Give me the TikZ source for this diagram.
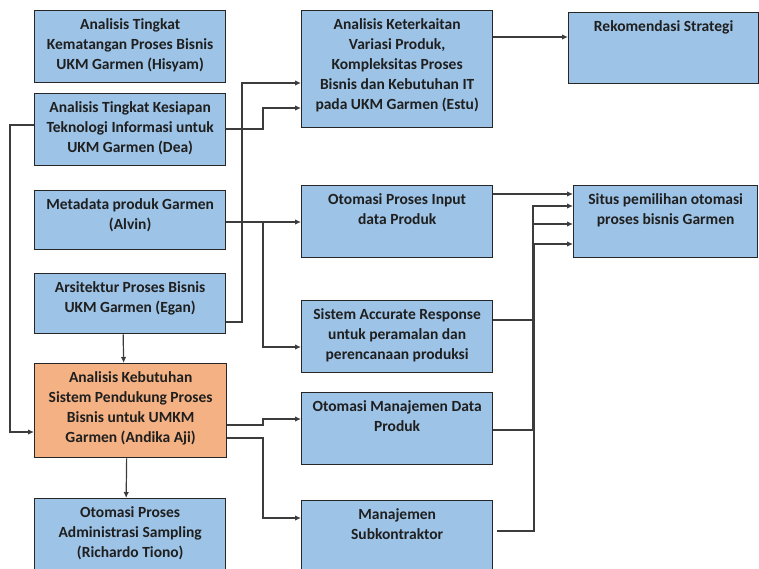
\documentclass[tikz,border=0pt]{standalone}
\usepackage{fontspec}
\setmainfont{Carlito}
\usetikzlibrary{arrows.meta}
\definecolor{boxblue}{HTML}{9DC3E6}
\definecolor{boxorange}{HTML}{F4B183}
\definecolor{edge}{HTML}{262626}
\definecolor{wire}{HTML}{3C3C3C}
\tikzset{
  x=1pt, y=-1pt,
  box/.style={draw=edge, line width=1.3pt, fill=boxblue, anchor=north west, inner sep=0pt},
  hot/.style={box, fill=boxorange},
  label/.style={anchor=north, align=center, inner sep=0pt, font=\fontsize{15.5}{20}\selectfont\bfseries, text=black!88},
  conn/.style={draw=wire, line width=1.2pt, -{Latex[length=6pt,width=5.5pt]}},
}
% a box from (x,y) with width w and height h, plus its top-aligned caption
\newcommand{\procbox}[7]{%
  \node[#1, minimum width=#5pt, minimum height=#6pt] (#2) at (#3,#4) {};
  \node[label] (#2-t) at ([yshift=-8pt]#2.north) {#7};}
\begin{document}
\begin{tikzpicture}
\useasboundingbox (0,0) rectangle (759,568);
\clip (0,0) rectangle (759,568);

% left column
\procbox{box}{hisyam}{34}{10}{191}{72}{Analisis Tingkat\\Kematangan Proses Bisnis\\UKM Garmen (Hisyam)}
\procbox{box}{dea}{34}{93}{191}{72}{Analisis Tingkat Kesiapan\\Teknologi Informasi untuk\\UKM Garmen (Dea)}
\procbox{box}{alvin}{34}{190}{191}{59}{Metadata produk Garmen\\(Alvin)}
\procbox{box}{egan}{34}{273}{191}{60}{Arsitektur Proses Bisnis\\UKM Garmen (Egan)}
\procbox{hot}{andika}{34}{363}{192}{94}{Analisis Kebutuhan\\Sistem Pendukung Proses\\Bisnis untuk UMKM\\Garmen (Andika Aji)}
\procbox{box}{richardo}{34}{498}{191}{80}{Otomasi Proses\\Administrasi Sampling\\(Richardo Tiono)}

% middle column
\procbox{box}{estu}{301}{10}{191}{117}{Analisis Keterkaitan\\Variasi Produk,\\Kompleksitas Proses\\Bisnis dan Kebutuhan IT\\pada UKM Garmen (Estu)}
\procbox{box}{input}{301}{185}{191}{72}{Otomasi Proses Input\\data Produk}
\procbox{box}{accurate}{301}{300}{191}{72}{Sistem Accurate Response\\untuk peramalan dan\\perencanaan produksi}
\procbox{box}{datamgmt}{301}{392}{191}{72}{Otomasi Manajemen Data\\Produk}
\procbox{box}{subkon}{301}{500}{191}{80}{Manajemen\\Subkontraktor}

% right column
\procbox{box}{rekom}{568}{12}{190}{71}{Rekomendasi Strategi}
\procbox{box}{situs}{573}{185}{184}{72}{Situs pemilihan otomasi\\proses bisnis Garmen}

% junction points of the elbow connectors
\coordinate (jdea) at (263,129);
\coordinate (jegan) at (242,322);
\coordinate (jalvin) at (263,222);
\coordinate (jand1) at (263,425);
\coordinate (jand2) at (263,438);
\coordinate (jleft) at (10,125);
\coordinate (bus) at (533,0);

% left column into the middle column
\draw[conn] (dea.east |- jdea) -- (jdea) |- (estu.west |- 0,108);
\draw[conn] (egan.east |- jegan) -- (jegan) |- (estu.west |- 0,83);
\draw[conn] (alvin.east |- jalvin) -- (input.west |- jalvin);
\draw[conn] (jalvin) |- (accurate.west |- 0,347);
\draw[conn] (andika.east |- jand1) -- (jand1) |- (datamgmt.west |- 0,419);
\draw[conn] (andika.east |- jand2) -- (jand2) |- (subkon.west |- 0,518);

% vertical links in the left column
\draw[conn] ([xshift=-7pt]egan.south) -- ([xshift=-7pt]andika.north);
\draw[conn] ([xshift=-4pt]andika.south) -- ([xshift=-4pt]richardo.north);
\draw[conn] (dea.west |- jleft) -- (jleft) |- (andika.west |- 0,432);

% top row
\draw[conn] (estu.east |- 0,37) -- (rekom.west |- 0,37);

% feeds into the selection site
\draw[conn] (input.east |- 0,194) -- (situs.west |- 0,194);
\draw[conn] (accurate.east |- 0,320) -| (bus |- 0,206) -- (situs.west |- 0,206);
\draw[conn] (datamgmt.east |- 0,430) -| (bus |- 0,224) -- (situs.west |- 0,224);
\draw[conn] ([xshift=4pt]subkon.east |- 0,531) -| ([xshift=1pt]bus |- 0,244) -- (situs.west |- 0,244);
\end{tikzpicture}
\end{document}
